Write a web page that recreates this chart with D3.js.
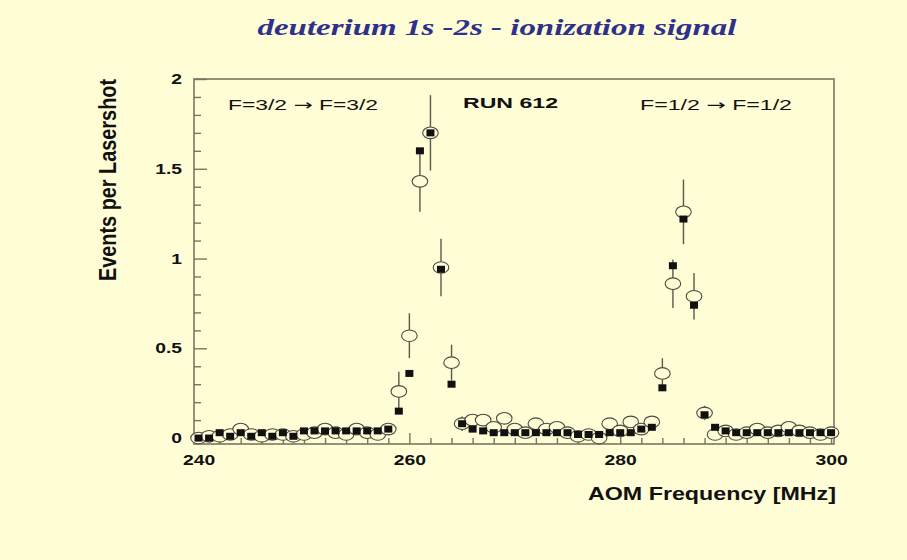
<!DOCTYPE html>
<html>
<head>
<meta charset="utf-8">
<script src="https://cdn.jsdelivr.net/npm/d3@7/dist/d3.min.js"></script>
<style>
  html, body { margin: 0; padding: 0; background: #fefdd6; }
  svg { display: block; }
</style>
</head>
<body>
<svg id="chart" width="907" height="560"></svg>
<script>
// ---------------- data ----------------
const titleText = "deuterium 1s -2s - ionization signal";
const xTitle = "AOM Frequency [MHz]";
const yTitle = "Events per Lasershot";
const xTickLabels = [240, 260, 280, 300];
const yTickLabels = [0, 0.5, 1, 1.5, 2];
const annotations = [["F=3/2 ", "\u2192", " F=3/2"], ["RUN 612"], ["F=1/2 ", "\u2192", " F=1/2"]];

const freq = [240,241,242,243,244,245,246,247,248,249,
              250,251,252,253,254,255,256,257,258,259,
              260,261,262,263,264,265,266,267,268,269,
              270,271,272,273,274,275,276,277,278,279,
              280,281,282,283,284,285,286,287,288,289,
              290,291,292,293,294,295,296,297,298,299,300];

// filled squares
const runSquares = [0.00,0.00,0.03,0.01,0.03,0.01,0.03,0.01,0.03,0.01,
                    0.04,0.04,0.04,0.04,0.04,0.04,0.04,0.04,0.05,0.15,
                    0.36,1.60,1.70,0.94,0.30,0.08,0.05,0.04,0.03,0.03,
                    0.03,0.03,0.03,0.03,0.03,0.03,0.02,0.02,0.02,0.03,
                    0.03,0.03,0.05,0.06,0.28,0.96,1.22,0.74,0.13,0.06,
                    0.04,0.03,0.03,0.03,0.03,0.03,0.03,0.03,0.03,0.03,0.03];

// open circles
const runCircles = [0.00,0.01,0.01,0.02,0.05,0.02,0.01,0.02,0.02,0.01,
                    0.02,0.03,0.05,0.03,0.02,0.05,0.03,0.02,0.05,0.26,
                    0.57,1.43,1.70,0.95,0.42,0.08,0.10,0.10,0.06,0.11,
                    0.05,0.03,0.08,0.05,0.06,0.03,0.01,0.02,0.00,0.08,
                    0.04,0.09,0.05,0.09,0.36,0.86,1.26,0.79,0.14,0.02,
                    0.04,0.02,0.03,0.05,0.03,0.04,0.06,0.04,0.03,0.02,0.03];

// error bars on open circles
const circleErrors = [0.03,0.03,0.03,0.03,0.03,0.03,0.03,0.03,0.03,0.03,
                      0.03,0.03,0.03,0.03,0.03,0.03,0.03,0.03,0.03,0.11,
                      0.125,0.17,0.21,0.16,0.10,0.04,0.03,0.03,0.03,0.03,
                      0.03,0.03,0.03,0.03,0.03,0.03,0.03,0.03,0.03,0.03,
                      0.03,0.03,0.03,0.03,0.085,0.135,0.18,0.13,0.04,0.03,
                      0.03,0.03,0.03,0.03,0.03,0.03,0.03,0.03,0.03,0.03,0.03];

const xMinorTicks = [242,244,246,248,250,252,254,256,258,262,264,266,268,270,
                     272,274,276,278,282,284,286,288,290,292,294,296,298];
const yMinorTicks = [0.1,0.2,0.3,0.4,0.6,0.7,0.8,0.9,1.1,1.2,1.3,1.4,1.6,1.7,1.8,1.9];

// ---------------- layout ----------------
const svg = d3.select("#chart");
const W = 907, H = 560;
const frame = {left: 194, right: 834, top: 79, bottom: 444};
const bg = "#fefdd6";
const frameColor = "#77775f";
const stretch = 1.33;

svg.append("rect").attr("width", W).attr("height", H).attr("fill", bg);

const x = d3.scaleLinear().domain([239.57, 300.28]).range([frame.left, frame.right]);
const y = d3.scaleLinear().domain([-0.033, 2]).range([frame.bottom, frame.top]);

function stretchText(sel, factor) {
  sel.each(function() {
    const w = this.getComputedTextLength();
    d3.select(this).attr("textLength", w * factor).attr("lengthAdjust", "spacingAndGlyphs");
  });
}

// frame
svg.append("rect")
  .attr("x", frame.left).attr("y", frame.top)
  .attr("width", frame.right - frame.left).attr("height", frame.bottom - frame.top)
  .attr("fill", bg).attr("stroke", frameColor).attr("stroke-width", 1.6);

// x axis minor
const gxMinor = svg.append("g").attr("transform", `translate(0,${frame.bottom})`)
  .call(d3.axisBottom(x).tickValues(xMinorTicks).tickSizeInner(-6).tickSizeOuter(0).tickFormat(""));
// x axis major with labels
const gxMajor = svg.append("g").attr("transform", `translate(0,${frame.bottom})`)
  .call(d3.axisBottom(x).tickValues(xTickLabels).tickSizeInner(-11).tickSizeOuter(0).tickPadding(11).tickFormat(d3.format("d")));
// y axis minor
const gyMinor = svg.append("g").attr("transform", `translate(${frame.left},0)`)
  .call(d3.axisLeft(y).tickValues(yMinorTicks).tickSizeInner(-7).tickSizeOuter(0).tickFormat(""));
// y axis major with labels
const gyMajor = svg.append("g").attr("transform", `translate(${frame.left},0)`)
  .call(d3.axisLeft(y).tickValues(yTickLabels).tickSizeInner(-13).tickSizeOuter(0).tickPadding(12).tickFormat(d => String(d)));

[gxMinor, gxMajor, gyMinor, gyMajor].forEach(g => {
  g.select(".domain").remove();
  g.selectAll(".tick line").attr("stroke", frameColor).attr("stroke-width", 1.4);
  g.selectAll(".tick text")
    .attr("fill", "#111")
    .style("font-family", "'Liberation Sans', Arial, sans-serif")
    .style("font-weight", "bold")
    .style("font-size", "14.5px");
});
stretchText(gxMajor.selectAll(".tick text"), stretch);
stretchText(gyMajor.selectAll(".tick text"), stretch);

// error bars
const plot = svg.append("g");
plot.selectAll("line.err").data(freq)
  .join("line").attr("class", "err")
  .attr("x1", d => x(d)).attr("x2", d => x(d))
  .attr("y1", (d, i) => y(Math.max(runCircles[i] - circleErrors[i], -0.03)))
  .attr("y2", (d, i) => y(runCircles[i] + circleErrors[i]))
  .attr("stroke", "#5a5a48").attr("stroke-width", 1.4);

// open circles (ellipses, filled with background)
plot.selectAll("ellipse.pt").data(freq)
  .join("ellipse").attr("class", "pt")
  .attr("cx", d => x(d))
  .attr("cy", (d, i) => y(runCircles[i]))
  .attr("rx", 7.8).attr("ry", 5.8)
  .attr("fill", bg).attr("stroke", "#4a4a40").attr("stroke-width", 1.1);

// filled squares
const sqW = 8, sqH = 7;
plot.selectAll("rect.sq").data(freq)
  .join("rect").attr("class", "sq")
  .attr("x", d => x(d) - sqW / 2)
  .attr("y", (d, i) => y(runSquares[i]) - sqH / 2)
  .attr("width", sqW).attr("height", sqH)
  .attr("fill", "#111");

// title
svg.append("text")
  .attr("x", 497).attr("y", 35)
  .attr("text-anchor", "middle")
  .attr("fill", "#2f2f8c")
  .style("font-family", "'Liberation Serif', 'DejaVu Serif', serif")
  .style("font-style", "italic").style("font-weight", "bold")
  .style("font-size", "24px")
  .text(titleText)
  .attr("textLength", 479).attr("lengthAdjust", "spacingAndGlyphs");

// x title
svg.append("text")
  .attr("x", 836).attr("y", 500)
  .attr("text-anchor", "end")
  .attr("fill", "#111")
  .style("font-family", "'Liberation Sans', Arial, sans-serif")
  .style("font-weight", "bold").style("font-size", "19px")
  .text(xTitle)
  .attr("textLength", 248).attr("lengthAdjust", "spacingAndGlyphs");

// y title (rotated, stretched horizontally)
svg.append("g")
  .attr("transform", `translate(116,180) scale(1.25,1) rotate(-90)`)
  .append("text")
  .attr("text-anchor", "middle")
  .attr("fill", "#111")
  .style("font-family", "'Liberation Sans', Arial, sans-serif")
  .style("font-weight", "bold").style("font-size", "19px")
  .text(yTitle)
  .attr("textLength", 202).attr("lengthAdjust", "spacingAndGlyphs");

// annotations
const annPos = [
  {x: 228, y: 110, w: 150, bold: false},
  {x: 463, y: 108, w: 95, bold: true},
  {x: 640, y: 110, w: 152, bold: false}
];
annotations.forEach((parts, i) => {
  const p = annPos[i];
  const txt = svg.append("text")
    .attr("x", p.x).attr("y", p.y)
    .attr("fill", "#111")
    .style("font-family", "'Liberation Sans', Arial, sans-serif")
    .style("font-weight", p.bold ? "bold" : "normal")
    .style("font-size", "15px");
  parts.forEach(s => {
    const ts = txt.append("tspan").text(s);
    if (s === "\u2192") ts.style("font-family", "'DejaVu Sans', sans-serif").style("font-size", "15px");
  });
  txt.attr("textLength", p.w).attr("lengthAdjust", "spacingAndGlyphs");
});
</script>
</body>
</html>
